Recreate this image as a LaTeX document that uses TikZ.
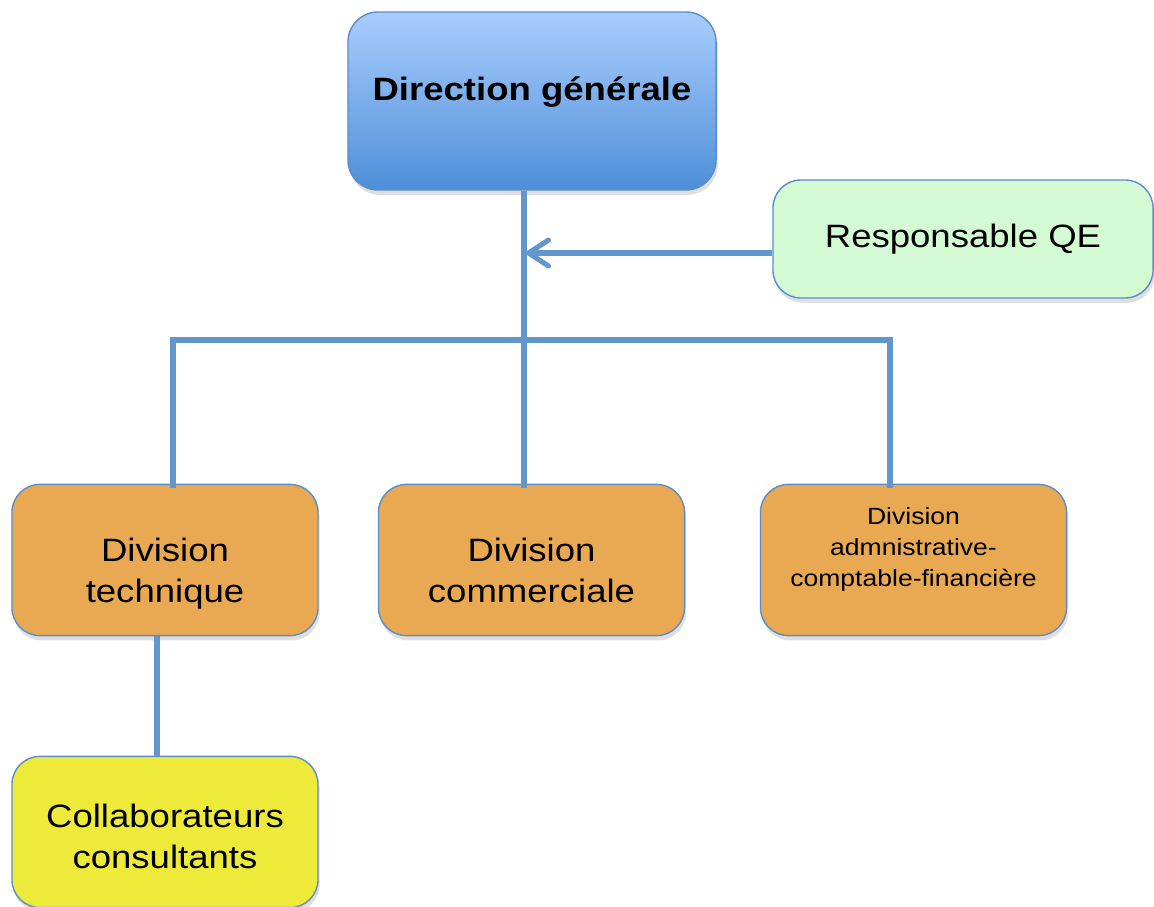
\documentclass[tikz,border=0pt]{standalone}
\usepackage{fontspec}
\setmainfont[FakeStretch=1.13]{Liberation Sans}
\usetikzlibrary{arrows.meta,shadows}
\definecolor{dgTop}{HTML}{A9CDFC}
\definecolor{dgBottom}{HTML}{4E8FD9}
\definecolor{qeFill}{HTML}{D4FAD4}
\definecolor{divFill}{HTML}{E8A952}
\definecolor{collabFill}{HTML}{EDEA39}
\definecolor{boxStroke}{HTML}{5C8DCB}
\definecolor{linkStroke}{HTML}{6296CD}

\begin{document}
\begin{tikzpicture}[
  x=0.025cm,y=-0.025cm,
  font=\fontsize{23}{29}\selectfont,
  box/.style={rectangle,rounded corners=0.7cm,draw=boxStroke,line width=1pt,align=center,
    drop shadow={opacity=.25,shadow xshift=.4mm,shadow yshift=-1.2mm}},
  head/.style={box,rounded corners=0.75cm,minimum width=9.2cm,minimum height=4.45cm,
    top color=dgTop,bottom color=dgBottom,text height=.6cm,text depth=.6cm,font=\fontsize{23}{29}\selectfont\bfseries},
  quality/.style={box,fill=qeFill,minimum width=9.5cm,minimum height=2.95cm},
  division/.style={box,fill=divFill,minimum width=7.65cm,minimum height=3.78cm,text height=2.3cm,text depth=.2cm},
  finance/.style={box,fill=divFill,minimum width=7.65cm,minimum height=3.78cm,text depth=.65cm,font=\fontsize{16.7}{22}\selectfont},
  staff/.style={box,fill=collabFill,minimum width=7.65cm,minimum height=3.78cm,text height=2cm,text depth=.2cm},
  link/.style={line width=3.6pt,draw=linkStroke}
]
\useasboundingbox (0,0) rectangle (1154,906);
% boxes, top to bottom
\node[head] (dg) at (532,101) {Direction générale};
\node[quality] (qe) at (963,239) {Responsable QE};
\node[division] (tech) at (165,560) {Division\\technique};
\node[division] (comm) at (531.5,560) {Division\\commerciale};
\node[finance] (admin) at (913.5,560) {Division\\admnistrative-\\comptable-financière};
\node[staff] (collab) at (165,832) {Collaborateurs\\consultants};

\coordinate (trunk) at (524,340);
\coordinate (barL) at (173,340);
\coordinate (barR) at (890,340);
\coordinate (qeHit) at (526,253);
\coordinate (techDown) at (157,636);

\draw[link] (dg.south -| trunk) -- ([yshift=-.1cm]comm.north -| trunk);
\draw[link] ([yshift=-.1cm]tech.north -| barL) -- (barL) -- (barR) -- ([yshift=-.1cm]admin.north -| barR);
\draw[link,-{Straight Barb[length=5mm,width=6.5mm,round]}] (qe.west |- qeHit) -- (qeHit);
\draw[link] (tech.south -| techDown) -- (collab.north -| techDown);
\end{tikzpicture}
\end{document}
